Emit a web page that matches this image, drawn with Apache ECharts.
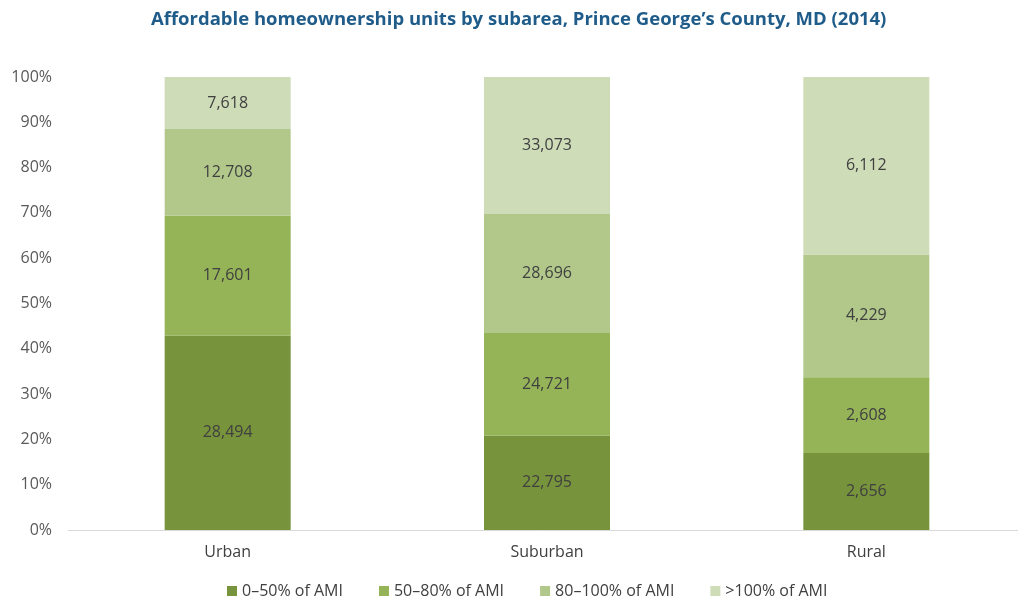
<!DOCTYPE html>
<html>
<head>
<meta charset="utf-8">
<script src="https://cdn.jsdelivr.net/npm/echarts@6/dist/echarts.min.js"></script>
<style>
  html, body { margin: 0; padding: 0; background: #ffffff; }
  #chart { width: 1018px; height: 602px; }
</style>
</head>
<body>
<div id="chart"></div>
<script>
// Affordable homeownership units by subarea and income band
const subareas = ['Urban', 'Suburban', 'Rural'];
const bandNames = ['0–50% of AMI', '50–80% of AMI', '80–100% of AMI', '>100% of AMI'];
const units0to50 = [28494, 22795, 2656];
const units50to80 = [17601, 24721, 2608];
const units80to100 = [12708, 28696, 4229];
const unitsOver100 = [7618, 33073, 6112];
const percentTicks = ['0%', '10%', '20%', '30%', '40%', '50%', '60%', '70%', '80%', '90%', '100%'];

const bandColors = ['#77933c', '#95b357', '#b1c88a', '#cfdcb8'];
const bands = [units0to50, units50to80, units80to100, unitsOver100];

// share of each subarea's total, so every column stacks to 100%
const totals = subareas.map((_, i) => bands.reduce((s, b) => s + b[i], 0));

const FONT = 'Open Sans';

const series = bands.map((vals, k) => ({
  name: bandNames[k],
  type: 'bar',
  stack: 'share',
  barWidth: 126,
  itemStyle: { color: bandColors[k] },
  data: vals.map((v, i) => ({ value: v / totals[i] * 100, units: v })),
  label: {
    show: true,
    position: 'inside',
    color: '#404040',
    fontFamily: FONT,
    fontSize: 16,
    formatter: p => p.data.units.toLocaleString('en-US')
  },
  emphasis: { disabled: true }
}));

const chart = echarts.init(document.getElementById('chart'), null, { renderer: 'canvas' });
chart.setOption({
  animation: false,
  title: {
    text: 'Affordable homeownership units by subarea, Prince George’s County, MD (2014)',
    left: 146,
    top: 5,
    textStyle: {
      color: '#1f5c8a',
      fontFamily: FONT,
      fontWeight: 'bold',
      fontSize: 18.5
    }
  },
  legend: {
    top: 578,
    left: 222,
    itemWidth: 10,
    itemHeight: 10,
    itemGap: 36,
    icon: 'rect',
    textStyle: { color: '#404040', fontFamily: FONT, fontSize: 16 },
    data: bandNames
  },
  grid: { left: 68, top: 77, width: 958, height: 453, outerBoundsMode: 'none' },
  xAxis: {
    type: 'category',
    data: subareas,
    axisLine: { lineStyle: { color: '#d9d9d9', width: 1 } },
    axisTick: { show: false },
    axisLabel: { color: '#404040', fontFamily: FONT, fontSize: 16, margin: 14 }
  },
  yAxis: {
    type: 'value',
    min: 0,
    max: 100,
    interval: 10,
    axisLine: { show: false },
    axisTick: { show: false },
    splitLine: { show: false },
    axisLabel: {
      color: '#595959',
      fontFamily: FONT,
      fontSize: 16,
      margin: 16,
      formatter: v => percentTicks[Math.round(v / 10)]
    }
  },
  series
});
</script>
</body>
</html>
